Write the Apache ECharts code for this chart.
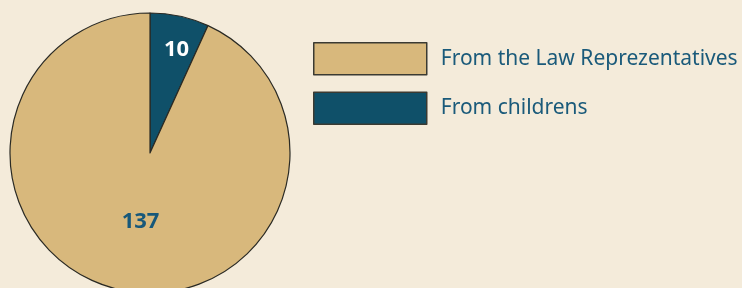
<!DOCTYPE html>
<html>
<head>
<meta charset="utf-8">
<script src="https://cdn.jsdelivr.net/npm/echarts@6/dist/echarts.min.js"></script>
<style>
  html, body { margin: 0; padding: 0; background: #f4ebda; }
  #chart { width: 742px; height: 288px; }
</style>
</head>
<body>
<div id="chart"></div>
<script>
// slice order follows the picture: children first, from 12 o'clock clockwise
const categories = ['From childrens', 'From the Law Reprezentatives'];
const values = [10, 137];
const legendOrder = ['From the Law Reprezentatives', 'From childrens'];
const colors = ['#0f5069', '#d8b87c'];
const labelColors = ['#ffffff', '#17587a'];
const labelOffsets = [[11, -32], [6, -3]];

const chart = echarts.init(document.getElementById('chart'), null, { renderer: 'canvas' });

chart.setOption({
	backgroundColor: '#f4ebda',
	animation: false,
	legend: {
		data: legendOrder,
		orient: 'vertical',
		left: 313,
		top: 42,
		padding: 0,
		itemWidth: 113,
		itemHeight: 32,
		itemGap: 16,
		icon: 'rect',
		selectedMode: false,
		textStyle: {
			fontFamily: 'Noto Sans',
			fontSize: 21,
			color: '#1a5a7a',
			padding: [0, 0, 0, 9]
		},
		itemStyle: {
			borderColor: '#3a3a32',
			borderWidth: 1.5
		}
	},
	series: [{
		type: 'pie',
		center: [150, 153],
		radius: 140,
		startAngle: 90,
		clockwise: true,
		silent: true,
		itemStyle: {
			borderColor: '#2a2a24',
			borderWidth: 1.2
		},
		label: {
			show: true,
			position: 'inside',
			formatter: '{c}',
			fontFamily: 'Noto Sans',
			fontWeight: 'bold',
			fontSize: 22
		},
		labelLine: { show: false },
		data: categories.map((name, i) => ({
			name: name,
			value: values[i],
			itemStyle: { color: colors[i] },
			label: { color: labelColors[i], offset: labelOffsets[i] }
		}))
	}]
});
</script>
</body>
</html>
